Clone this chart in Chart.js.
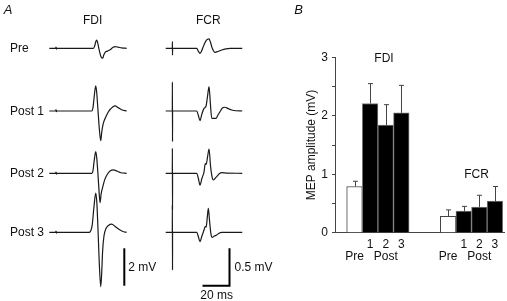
<!DOCTYPE html>
<html><head><meta charset="utf-8">
<script src="https://cdn.jsdelivr.net/npm/chart.js@4"></script>
<style>
html,body{margin:0;padding:0;background:#fff;}
#wrap{position:relative;width:507px;height:301px;overflow:hidden;font-family:"Liberation Sans",Arial,sans-serif;font-size:12px;color:#111;}
canvas{position:absolute;top:0;}
#cA{left:0}
#cB{left:290px}
.t{position:absolute;white-space:nowrap;line-height:1;z-index:2;}
.c{transform:translate(-50%,-50%);}
.l{transform:translate(0,-50%);}
.i{font-style:italic;font-size:13px;}
</style>
</head><body>
<div id="wrap">
<canvas id="cA" width="290" height="301" style="width:290px;height:301px"></canvas>
<canvas id="cB" width="217" height="301" style="width:217px;height:301px"></canvas>
<div class="t c i" style="left:8px;top:8.5px">A</div>
<div class="t c i" style="left:298.5px;top:8.5px">B</div>
<div class="t c" style="left:92.7px;top:20px">FDI</div>
<div class="t c" style="left:208.3px;top:20px">FCR</div>
<div class="t l" style="left:10px;top:47.5px">Pre</div>
<div class="t l" style="left:10px;top:111px">Post 1</div>
<div class="t l" style="left:10px;top:173px">Post 2</div>
<div class="t l" style="left:10px;top:232px">Post 3</div>
<div class="t l" style="left:128.3px;top:266.7px">2 mV</div>
<div class="t l" style="left:234.5px;top:266.7px">0.5 mV</div>
<div class="t c" style="left:216.7px;top:295px">20 ms</div>
<div class="t c" style="left:384px;top:58px">FDI</div>
<div class="t c" style="left:476.5px;top:174.3px">FCR</div>
</div>
<script>
// ---------- Panel A: MEP traces, [time (ms from stimulus), amplitude (mV)] ----------
const fdiPre   = [[-5,0],[-0.3,0],[0,0.07],[0.3,-0.04],[0.6,0],[27.6,0],[28.6,0.12],[29.4,0.35],[30.1,0.44],[30.8,0.3],[32,-0.1],[33.3,-0.45],[34.6,-0.53],[35.4,-0.35],[36.5,-0.2],[38,-0.15],[40,-0.08],[42,0.04],[43.7,0.09],[46,0.06],[48.6,0.02],[52.3,0]];
const fdiPost1 = [[-5,0],[-0.3,0],[0,0.07],[0.3,-0.04],[0.6,0],[26.4,0],[27.3,0.15],[28.3,0.8],[29.4,1.34],[30.1,1.0],[31,0.1],[32,-0.9],[33.1,-1.59],[33.9,-1.1],[35,-0.66],[37,-0.3],[38.5,-0.08],[40,0.08],[42,0.22],[43.7,0.27],[46,0.18],[48.6,0.07],[52.3,0]];
const fdiPost2 = [[-5,0],[-0.3,0],[0,0.07],[0.3,-0.04],[0.6,0],[26.4,0],[27.3,0.12],[28.3,0.7],[29.4,1.16],[30.1,0.85],[31,0.0],[31.8,-0.9],[32.6,-1.57],[33.4,-1.1],[34.6,-0.72],[36,-0.35],[38,-0.05],[40,0.12],[42.4,0.18],[45,0.12],[48,0.03],[52.3,0]];
const fdiPost3 = [[-5,0],[-0.3,0],[0,0.07],[0.3,-0.04],[0.6,0],[24.6,0],[25.8,0.1],[26.8,0.4],[28,1.3],[29.4,2.09],[30.2,1.6],[31,0.3],[32,-1.6],[33.1,-2.91],[33.8,-2.2],[34.5,-1.0],[35.5,-0.2],[37,0.2],[39,0.38],[41.2,0.44],[44,0.3],[47.4,0.12],[50,0.03],[52.3,0]];
const fcrPre   = [[-5,0],[-0.1,0],[-0.05,0.09],[0.05,-0.09],[0.1,0],[18,0],[19.2,-0.04],[20.4,-0.067],[21.5,-0.04],[23,0.03],[24.5,0.09],[26,0.12],[27.1,0.125],[28,0.09],[29.5,0.0],[31.5,-0.054],[34,-0.04],[36.5,-0.023],[39.5,-0.008],[42.6,0],[51.7,0]];
const fcrPost1 = [[-5,0],[-0.1,0],[-0.05,0.39],[0.05,-0.41],[0.1,0],[18,0],[19.2,-0.06],[20.4,-0.13],[21.8,-0.04],[23.4,0.036],[24.9,0.067],[26,0.2],[27.1,0.325],[28.1,0.1],[29.1,-0.098],[32.3,-0.098],[33.5,-0.06],[35.2,-0.01],[37,0.04],[38.9,0.05],[41.5,0.03],[43.9,0.013],[47,0.003],[51.7,0]];
const fcrPost2 = [[-5,0],[-0.1,0],[-0.05,0.335],[0.05,-0.49],[0.1,0],[18,0],[19.2,-0.07],[20.4,-0.157],[21.8,-0.07],[23.4,0.02],[24.3,0.13],[25,0.12],[26,0.22],[27.1,0.325],[28.2,0.1],[29.5,-0.06],[30.3,-0.09],[31.5,-0.07],[32.8,-0.045],[34.5,-0.01],[36.5,0.008],[40,0.003],[51.7,0]];
const fcrPost3 = [[-5,0],[-0.1,0],[-0.05,0.365],[0.05,-0.505],[0.1,0],[18,0],[19.2,-0.06],[20.4,-0.126],[21.8,-0.05],[23.4,0.03],[24.3,0.08],[25,0.07],[25.8,0.2],[26.6,0.32],[27.5,0.15],[28.5,-0.02],[29.5,-0.067],[31,-0.05],[32.8,-0.036],[34.5,-0.012],[36.5,0],[51.7,0]];
const rowNames = ['Pre','Post 1','Post 2','Post 3'];
const scaleBarFdiMv = 2;
const scaleBarFcrMv = 0.5;
const scaleBarMs = 20;

// ---------- Panel B: MEP amplitude (mV), mean and SE ----------
const barCategories = ['Pre','1','2','3'];
const barTickLines = [['','Pre'],'1',['2','Post'],'3'];
const fdiMean = [0.79,2.21,1.84,2.05];
const fdiSE   = [0.09,0.34,0.35,0.47];
const fcrMean = [0.28,0.37,0.44,0.54];
const fcrSE   = [0.11,0.08,0.20,0.25];
const yTickValues = [0,1,2,3];

// ---------- layout (positions / sizes only) ----------
const FONT = '"Liberation Sans", Arial, sans-serif';
const LA = {w:290, h:301, x0F:49.3, x0C:165.7, tStart:-5, pxPerMs:1.35,
            base:[48.3,111,173.3,232.3], gF:18.7, gC:74.7,
            barTop:248.3, fdiBarX:124.3, fcrBarX:229.5};
const groupStart = {FDI:0, FCR:6};

// ---------- Chart A ----------
const traceColor = '#1a1a1a';
const scalesA = {
  xF:{type:'linear', display:false, min: LA.tStart - LA.x0F/LA.pxPerMs, max: LA.tStart + (LA.w - LA.x0F)/LA.pxPerMs},
  xC:{type:'linear', display:false, min: LA.tStart - LA.x0C/LA.pxPerMs, max: LA.tStart + (LA.w - LA.x0C)/LA.pxPerMs}
};
LA.base.forEach((b,i)=>{
  scalesA['yF'+i] = {type:'linear', display:false, min: -(LA.h-b)/LA.gF, max: b/LA.gF};
  scalesA['yC'+i] = {type:'linear', display:false, min: -(LA.h-b)/LA.gC, max: b/LA.gC};
});
const fdiTraces = [fdiPre, fdiPost1, fdiPost2, fdiPost3];
const fcrTraces = [fcrPre, fcrPost1, fcrPost2, fcrPost3];
const dsA = [];
fdiTraces.forEach((tr,i)=>dsA.push({label:'FDI '+rowNames[i], data: tr.map(([t,v])=>({x:t,y:v})), xAxisID:'xF', yAxisID:'yF'+i}));
fcrTraces.forEach((tr,i)=>dsA.push({label:'FCR '+rowNames[i], data: tr.map(([t,v])=>({x:t,y:v})), xAxisID:'xC', yAxisID:'yC'+i}));
dsA.forEach(d=>Object.assign(d,{showLine:true, pointRadius:0, borderColor:traceColor, borderWidth:1.2, cubicInterpolationMode:'monotone', fill:false}));

const scaleBarPlugin = {
  id:'scaleBars',
  afterDatasetsDraw(chart){
    const {ctx, scales} = chart;
    const lenF = scales.yF3.getPixelForValue(0) - scales.yF3.getPixelForValue(scaleBarFdiMv);
    const lenC = scales.yC3.getPixelForValue(0) - scales.yC3.getPixelForValue(scaleBarFcrMv);
    const lenT = scales.xC.getPixelForValue(scaleBarMs) - scales.xC.getPixelForValue(0);
    ctx.save();
    ctx.strokeStyle = '#000'; ctx.lineWidth = 2; ctx.lineCap = 'butt'; ctx.lineJoin='miter';
    ctx.beginPath(); ctx.moveTo(LA.fdiBarX, LA.barTop); ctx.lineTo(LA.fdiBarX, LA.barTop+lenF); ctx.stroke();
    ctx.beginPath(); ctx.moveTo(LA.fcrBarX, LA.barTop); ctx.lineTo(LA.fcrBarX, LA.barTop+lenC); ctx.lineTo(LA.fcrBarX-lenT, LA.barTop+lenC); ctx.stroke();
    ctx.restore();
  }
};

new Chart(document.getElementById('cA'), {
  type:'scatter',
  data:{datasets:dsA},
  options:{responsive:false, devicePixelRatio:1, animation:false,
    layout:{padding:0},
    plugins:{legend:{display:false}, tooltip:{enabled:false}},
    scales:scalesA},
  plugins:[scaleBarPlugin]
});

// ---------- Chart B ----------
const barPoints = [], barFill = [], barBorder = [], barErr = [];
fdiMean.forEach((v,i)=>{barPoints.push({x:groupStart.FDI+i, y:v}); barErr.push(fdiSE[i]); barFill.push(i===0?'#fff':'#000'); barBorder.push(i===0?'#444':'#777');});
fcrMean.forEach((v,i)=>{barPoints.push({x:groupStart.FCR+i, y:v}); barErr.push(fcrSE[i]); barFill.push(i===0?'#fff':'#000'); barBorder.push(i===0?'#444':'#777');});
const xTickPositions = barCategories.map((c,i)=>groupStart.FDI+i).concat(barCategories.map((c,i)=>groupStart.FCR+i));
const xTickText = barTickLines.concat(barTickLines);

const errorBarPlugin = {
  id:'errorBars',
  afterDatasetsDraw(chart){
    const {ctx} = chart;
    const yS = chart.scales.y;
    const meta = chart.getDatasetMeta(0);
    ctx.save();
    ctx.strokeStyle = '#444'; ctx.lineWidth = 1;
    meta.data.forEach((el,i)=>{
      const v = barPoints[i].y, e = barErr[i];
      const x = Math.round(el.x)+0.5;
      const yTop = yS.getPixelForValue(v+e);
      ctx.beginPath(); ctx.moveTo(x, el.y); ctx.lineTo(x, yTop);
      ctx.moveTo(x-2.5, yTop); ctx.lineTo(x+2.5, yTop); ctx.stroke();
    });
    ctx.restore();
  }
};

new Chart(document.getElementById('cB'), {
  type:'bar',
  data:{datasets:[{label:'MEP amplitude', data:barPoints, backgroundColor:barFill, borderColor:barBorder, borderWidth:1, barPercentage:1, categoryPercentage:1}]},
  options:{responsive:false, devicePixelRatio:1, animation:false,
    layout:{padding:{left:0, top:57.3, right:2.7, bottom:38.3}},
    plugins:{legend:{display:false}, tooltip:{enabled:false}},
    scales:{
      x:{type:'linear', min:-1.25, max:9.6, offset:false,
         afterFit(s){s.height=30;},
         afterBuildTicks(s){s.ticks = xTickPositions.map(v=>({value:v}));},
         ticks:{autoSkip:false, maxRotation:0, minRotation:0, padding:5.6, color:'#111',
                font:{family:FONT, size:12, lineHeight:1},
                callback:(v,i)=>xTickText[i]},
         grid:{display:false, drawTicks:false, offset:false},
         border:{display:true, color:'#444', width:1}},
      y:{type:'linear', min:0, max:3,
         afterFit(s){s.width=45;},
         afterBuildTicks(s){const t=[]; for(let k=0;k<=6;k++) t.push({value:k*0.5}); s.ticks=t;},
         ticks:{autoSkip:false, padding:4, color:'#111', font:{family:FONT, size:12},
                callback:(v)=> yTickValues.includes(v) ? String(v) : ''},
         grid:{drawOnChartArea:false, drawTicks:true, tickLength:3, color:'#444'},
         border:{display:true, color:'#444', width:1},
         title:{display:true, text:'MEP amplitude (mV)', color:'#111', font:{family:FONT, size:12}, padding:{top:14.5, bottom:0}}}
    }},
  plugins:[errorBarPlugin]
});
</script>
</body></html>
